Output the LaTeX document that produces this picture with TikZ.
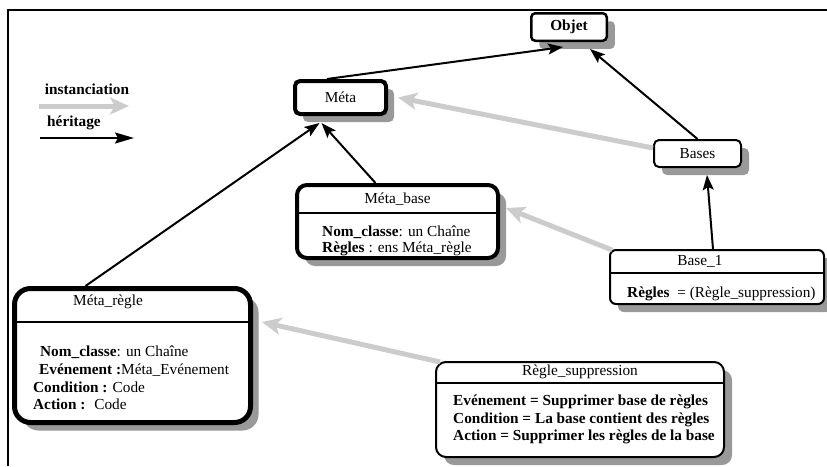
\documentclass[tikz,border=0pt]{standalone}
\usepackage{fontspec}
\setmainfont{Liberation Serif}
\usetikzlibrary{arrows.meta,shadows}
\newcommand{\diagfont}{\fontsize{15.3}{18}\selectfont}
\begin{document}
\begin{tikzpicture}[x=1pt,y=-1pt,
  font=\diagfont,
  shade box/.style={draw, fill=white, inner sep=0pt,
    drop shadow={shadow xshift=8pt, shadow yshift=-8pt, fill=black!40, opacity=1}},
  heritage/.style={draw=black, line width=2pt,
    -{Stealth[length=15pt,width=11pt,inset=3pt]}},
  instance/.style={draw=black!20, line width=5pt,
    -{Stealth[length=19pt,width=17pt,inset=5pt]}},
  label/.style={inner sep=0pt, anchor=west},
  boldtext/.style={font=\diagfont\bfseries},
]
% page and frame
\fill[white] (0,0) rectangle (827,466);
\useasboundingbox (0,0) rectangle (827,466);
\draw[line width=2pt] (827,10) -- (8,10) -- (8,466);

% legend
\node[boldtext, inner sep=0pt] (lgI) at (87,89) {instanciation};
\coordinate (lgIa) at (39,106);
\coordinate (lgIb) at (129,106);
\draw[instance] (lgIa) -- (lgIb);
\node[boldtext, inner sep=0pt] (lgH) at (74,123) {héritage};
\coordinate (lgHa) at (40,138);
\coordinate (lgHb) at (134,138);
\draw[black, line width=2pt, -{Stealth[length=19pt,width=11pt,inset=3pt]}] (lgHa) -- (lgHb);

% simple classes
\node[shade box, boldtext, line width=2.5pt, rounded corners=4pt, minimum width=75.5pt, minimum height=27.5pt] (objet) at (569,27) {Objet};
\node[shade box, line width=4pt, rounded corners=5pt, minimum width=91pt, minimum height=33pt] (meta) at (340.5,97.5) {Méta};
\node[shade box, line width=2pt, rounded corners=5pt, minimum width=87pt, minimum height=27pt] (bases) at (697.5,153.5) {Bases};

% Méta_base
\node[shade box, line width=4pt, rounded corners=10pt, minimum width=201pt, minimum height=73pt] (metabase) at (397.5,221.5) {};
\draw[line width=1.5pt] (metabase.west |- 0,213) -- (metabase.east |- 0,213);
\node[inner sep=0pt] (metabaseT) at (397.5,199) {Méta\_base};
\node[label] (metabaseA) at (322,232) {\textbf{Nom\_classe}: un Chaîne};
\node[label] (metabaseB) at (322,249) {\textbf{Règles} : ens Méta\_règle};

% Base_1
\node[shade box, line width=2pt, rounded corners=6pt, minimum width=214pt, minimum height=54pt] (base1) at (717,277) {};
\draw[line width=1.5pt] (base1.west |- 0,273) -- (base1.east |- 0,273);
\node[inner sep=0pt] (base1T) at (700,261) {Base\_1};
\node[label] (base1A) at (627,294) {\textbf{Règles}~ = (Règle\_suppression)};

% Méta_règle
\node[shade box, line width=5pt, rounded corners=16pt, minimum width=236pt, minimum height=134pt] (metaregle) at (132.5,355.5) {};
\draw[line width=1.5pt] (metaregle.west |- 0,322) -- (metaregle.east |- 0,322);
\node[inner sep=0pt] (metaregleT) at (108,302) {Méta\_règle};
\node[label] (metaregleA) at (40,352) {\textbf{Nom\_classe}: un Chaîne};
\node[label] (metaregleB) at (39,370) {\textbf{Evénement :}Méta\_Evénement};
\node[label] (metaregleC) at (33,387) {\textbf{Condition :} Code};
\node[label] (metaregleD) at (33,404) {\textbf{Action :}~ Code};

% Règle_suppression
\node[shade box, line width=2pt, rounded corners=10pt, minimum width=288pt, minimum height=95pt] (regle) at (580,409.5) {};
\draw[line width=1.5pt] (regle.west |- 0,383) -- (regle.east |- 0,383);
\node[inner sep=0pt] (regleT) at (580,372) {Règle\_suppression};
\node[label, boldtext] (regleA) at (453,402) {Evénement = Supprimer base de règles};
\node[label, boldtext] (regleB) at (453,420) {Condition = La base contient des règles};
\node[label, boldtext] (regleC) at (453,437) {Action = Supprimer les règles de la base};

% inheritance links
\draw[heritage] ([xshift=-13.5pt]meta.north) -- ([xshift=-6pt,yshift=-5pt]objet.south);
\draw[heritage] (bases.north) -- ([xshift=-18pt,yshift=-7pt]objet.south east);
\draw[heritage] ([xshift=-22pt]metabase.north) -- ([xshift=-19pt,yshift=-7pt]meta.south);
\draw[heritage] ([xshift=-47pt]metaregle.north) -- ([xshift=-21pt,yshift=-7pt]meta.south);
\draw[heritage] ([xshift=-4pt]base1.north) -- ([xshift=9.5pt,yshift=-7pt]bases.south);

% instantiation links
\draw[instance] ([yshift=5.5pt]bases.west) -- ([xshift=10pt]meta.east);
\draw[instance] ([xshift=3pt,yshift=-1pt]base1.north west) -- ([xshift=6pt,yshift=13.5pt]metabase.east);
\draw[instance] ([xshift=5pt,yshift=-1pt]regle.north west) -- ([xshift=9pt,yshift=33.5pt]metaregle.east);
\end{tikzpicture}
\end{document}
